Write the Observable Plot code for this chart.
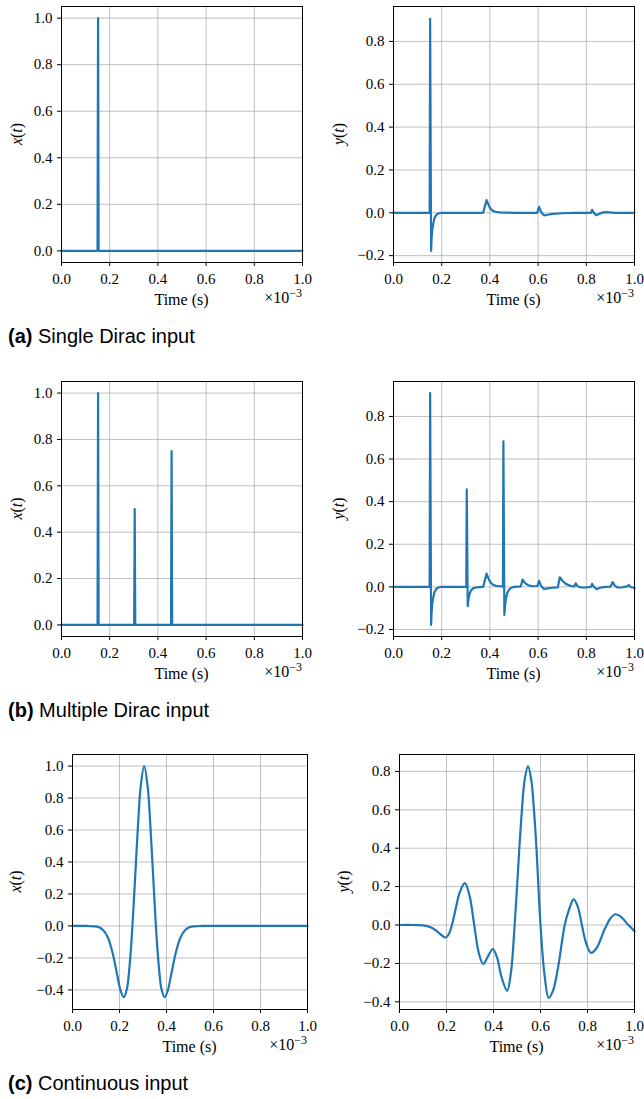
<!DOCTYPE html>
<html><head><meta charset="utf-8">
<script src="https://cdn.jsdelivr.net/npm/d3@7"></script>
<script src="https://cdn.jsdelivr.net/npm/@observablehq/plot@0.6"></script>
<style>
body{margin:0;background:#fff;}
#root{position:relative;width:644px;height:1099px;overflow:hidden;background:#fff;}
.cap{position:absolute;left:8px;font-family:"Liberation Sans",Arial,sans-serif;font-size:20px;color:#000;line-height:20px;white-space:nowrap;}
.cap b{font-weight:bold;}
svg text, svg tspan, svg g{font-family:"Liberation Serif",serif !important;font-variant:normal !important;font-variant-numeric:normal !important;}
</style></head><body><div id="root"></div>
<script>
// ---- tick values ----
const xTicks = [0, 0.2, 0.4, 0.6, 0.8, 1.0];
const yTicksIn = [0, 0.2, 0.4, 0.6, 0.8, 1.0];
const yTicksOut = [-0.2, 0, 0.2, 0.4, 0.6, 0.8];
const yTicksContIn = [-0.4, -0.2, 0, 0.2, 0.4, 0.6, 0.8, 1.0];
const yTicksContOut = [-0.4, -0.2, 0, 0.2, 0.4, 0.6, 0.8];

// ---- (a) single Dirac: time in units of 1e-3 s ----
const aInT = [0, 0.1495, 0.1518, 0.1541, 1.0];
const aInV = [0, 0, 1.0, 0, 0];
const aOutT = [0, 0.150, 0.152, 0.156, 0.158, 0.161, 0.165, 0.170, 0.176, 0.183, 0.190, 0.200,
  0.372, 0.386, 0.395, 0.403, 0.413, 0.423, 0.440, 0.460, 0.500,
  0.596, 0.604, 0.612, 0.624, 0.640, 0.660, 0.700, 0.750,
  0.819, 0.824, 0.830, 0.841, 0.855, 0.870, 0.885, 0.920, 1.0];
const aOutV = [0, 0, 0.905, -0.178, -0.12, -0.08, -0.05, -0.025, -0.012, -0.005, -0.002, 0,
  0, 0.059, 0.035, 0.018, 0.009, 0.005, 0.002, 0.001, 0,
  0, 0.028, 0.004, -0.012, -0.009, -0.005, -0.002, 0,
  0, 0.014, 0.002, -0.011, -0.004, 0.002, 0.003, 0, 0];

// ---- (b) multiple Dirac ----
const bInT = [0, 0.1495, 0.1518, 0.1541, 0.3015, 0.3038, 0.3061, 0.4545, 0.4568, 0.4591, 1.0];
const bInV = [0, 0, 1.0, 0, 0, 0.5, 0, 0, 0.75, 0, 0];
const bOutT = [0, 0.150, 0.152, 0.156, 0.158, 0.161, 0.165, 0.170, 0.176, 0.183, 0.190, 0.200,
  0.302, 0.304, 0.308, 0.311, 0.315, 0.321, 0.330, 0.345, 0.372,
  0.386, 0.395, 0.403, 0.413, 0.425, 0.440, 0.454,
  0.456, 0.460, 0.463, 0.467, 0.473, 0.481, 0.490, 0.500,
  0.528, 0.536, 0.546, 0.560, 0.580, 0.597, 0.604, 0.612, 0.624, 0.640, 0.660, 0.682,
  0.690, 0.700, 0.715, 0.735, 0.750, 0.756, 0.765, 0.780, 0.800, 0.819, 0.824, 0.830, 0.843,
  0.857, 0.870, 0.900, 0.909, 0.918, 0.930, 0.950, 0.970, 0.976, 0.986, 1.0];
const bOutV = [0, 0, 0.91, -0.179, -0.12, -0.08, -0.05, -0.025, -0.012, -0.005, -0.002, 0,
  0, 0.458, -0.09, -0.06, -0.036, -0.018, -0.007, -0.002, 0,
  0.062, 0.037, 0.02, 0.01, 0.005, 0.003, 0.002,
  0.683, -0.132, -0.088, -0.052, -0.026, -0.011, -0.004, 0,
  0.002, 0.034, 0.018, 0.007, 0.003, 0.004, 0.028, 0.005, -0.010, -0.007, -0.004, -0.002,
  0.045, 0.030, 0.014, 0.004, 0.002, 0.016, 0.002, -0.003, -0.002, 0, 0.014, 0.002, -0.011,
  -0.004, -0.001, 0.001, 0.022, 0.006, -0.003, -0.002, 0.002, 0.008, -0.002, -0.005];

// ---- (c) continuous input ----
const cInT = [0, 0.06, 0.09, 0.11, 0.13, 0.15, 0.17, 0.19, 0.205, 0.218, 0.232, 0.24, 0.25, 0.26, 0.27, 0.28, 0.29,
  0.305, 0.32, 0.33, 0.34, 0.35, 0.36, 0.37, 0.378, 0.392, 0.405, 0.42, 0.44, 0.46, 0.48, 0.50, 0.52, 0.55, 0.70, 1.0];
const cInV = [0, 0, -0.002, -0.007, -0.025, -0.07, -0.164, -0.305, -0.406, -0.446, -0.39, -0.296, -0.115, 0.127, 0.399, 0.662, 0.87,
  1.0, 0.87, 0.662, 0.399, 0.127, -0.115, -0.296, -0.39, -0.446, -0.406, -0.305, -0.164, -0.07, -0.025, -0.007, -0.002, 0, 0, 0];
const cOutT = [0, 0.06, 0.10, 0.13, 0.155, 0.178, 0.197, 0.211, 0.223, 0.240, 0.256, 0.278, 0.298, 0.318, 0.337,
  0.356, 0.376, 0.397, 0.415, 0.435, 0.458, 0.474, 0.490, 0.510, 0.521, 0.533, 0.547, 0.561, 0.572, 0.583,
  0.600, 0.617, 0.635, 0.653, 0.675, 0.703, 0.720, 0.741, 0.759, 0.776, 0.795, 0.815, 0.838, 0.870, 0.882,
  0.895, 0.918, 0.945, 0.970, 0.985, 1.0];
const cOutV = [0, 0, -0.002, -0.010, -0.028, -0.052, -0.065, -0.045, 0, 0.090, 0.169, 0.218, 0.153, 0, -0.144,
  -0.203, -0.165, -0.125, -0.169, -0.275, -0.343, -0.25, 0, 0.4, 0.6, 0.76, 0.827, 0.753, 0.602, 0.394,
  0, -0.258, -0.379, -0.343, -0.219, 0, 0.075, 0.134, 0.095, 0, -0.098, -0.145, -0.121, -0.03, 0,
  0.03, 0.056, 0.04, 0.005, -0.013, -0.032];

const captions = [
  {tag: "(a)", text: " Single Dirac input", top: 326},
  {tag: "(b)", text: " Multiple Dirac input", top: 700},
  {tag: "(c)", text: " Continuous input", top: 1073}
];

const BLUE = "#1f77b4";
const SERIF = "Liberation Serif";
const fmt = d3.format(".1f");
const root = document.getElementById("root");

function panel(o) {
  const [fx0, fx1, fy0, fy1] = o.frame;
  const data = o.t.map((d, i) => ({t: d, v: o.v[i]}));
  const svg = Plot.plot({
    width: o.width, height: o.height,
    marginLeft: fx0 - o.left, marginRight: o.left + o.width - fx1,
    marginTop: fy0 - o.top, marginBottom: o.top + o.height - fy1,
    style: {fontFamily: SERIF, fontSize: "15px", background: "transparent", color: "black"},
    x: {domain: [0, 1]},
    y: {domain: o.yDomain},
    marks: [
      Plot.gridX(xTicks, {stroke: "#b0b0b0", strokeOpacity: 1, strokeWidth: 0.8}),
      Plot.gridY(o.yTicks, {stroke: "#b0b0b0", strokeOpacity: 1, strokeWidth: 0.8}),
      Plot.line(data, {x: "t", y: "v", stroke: BLUE, strokeWidth: 2.2, strokeLinejoin: "round",
        curve: o.curve || "linear"}),
      Plot.axisX({ticks: xTicks, tickSize: 4, tickPadding: 7, tickFormat: fmt, label: null, fill: "black",
        fontFamily: SERIF, fontSize: 15, fontVariant: "normal"}),
      Plot.axisY({ticks: o.yTicks, tickSize: 4, tickPadding: 5, tickFormat: fmt, label: null, fill: "black",
        fontFamily: SERIF, fontSize: 15, fontVariant: "normal"}),
      Plot.frame({stroke: "black", strokeWidth: 1})
    ]
  });
  const s = d3.select(svg);
  const cx = (fx0 + fx1) / 2 - o.left;
  const bottom = fy1 - o.top;
  const right = fx1 - o.left;
  // x label
  s.append("text").attr("x", cx).attr("y", bottom + 43)
    .attr("text-anchor", "middle").attr("font-family", SERIF)
    .attr("font-size", 16).attr("fill", "black").text("Time (s)");
  // offset text
  const off = s.append("text").attr("x", right).attr("y", bottom + 40.5)
    .attr("text-anchor", "end").attr("font-family", SERIF)
    .attr("font-size", 16).attr("fill", "black");
  off.append("tspan").text("×10");
  off.append("tspan").attr("dy", -6).attr("font-size", 12).text("−3");
  // y label
  const ly = (fy0 + fy1) / 2 - o.top;
  const lx = fx0 - o.left - o.yLabelOff;
  const yl = s.append("text").attr("transform", `translate(${lx},${ly}) rotate(-90)`)
    .attr("text-anchor", "middle").attr("dy", "0.35em")
    .attr("font-family", SERIF).attr("font-size", 16).attr("fill", "black");
  yl.append("tspan").attr("font-style", "italic").text(o.yName);
  yl.append("tspan").text("(");
  yl.append("tspan").attr("font-style", "italic").text("t");
  yl.append("tspan").text(")");
  svg.style.position = "absolute";
  svg.style.left = o.left + "px";
  svg.style.top = o.top + "px";
  svg.style.overflow = "visible";
  root.appendChild(svg);
}

panel({left: 0, top: 0, width: 322, height: 325, frame: [61, 302, 6, 262], t: aInT, v: aInV,
  yDomain: [-0.05, 1.05], yTicks: yTicksIn, yName: "x", yLabelOff: 44.5});
panel({left: 322, top: 0, width: 322, height: 325, frame: [393, 634, 6, 262], t: aOutT, v: aOutV,
  yDomain: [-0.232, 0.963], yTicks: yTicksOut, yName: "y", yLabelOff: 54.5});
panel({left: 0, top: 370, width: 322, height: 325, frame: [61, 302, 381, 636], t: bInT, v: bInV,
  yDomain: [-0.05, 1.05], yTicks: yTicksIn, yName: "x", yLabelOff: 44.5});
panel({left: 322, top: 370, width: 322, height: 325, frame: [393, 634, 381, 636], t: bOutT, v: bOutV,
  yDomain: [-0.233, 0.964], yTicks: yTicksOut, yName: "y", yLabelOff: 54.5});
panel({left: 0, top: 740, width: 322, height: 325, frame: [72, 307, 754, 1009], t: cInT, v: cInV,
  yDomain: [-0.5225, 1.0725], yTicks: yTicksContIn, yName: "x", yLabelOff: 57, curve: "catmull-rom"});
panel({left: 322, top: 740, width: 322, height: 325, frame: [399, 634, 754, 1009], t: cOutT, v: cOutV,
  yDomain: [-0.44, 0.888], yTicks: yTicksContOut, yName: "y", yLabelOff: 55.5, curve: "catmull-rom"});

for (const c of captions) {
  const d = document.createElement("div");
  d.className = "cap";
  d.style.top = c.top + "px";
  const b = document.createElement("b");
  b.textContent = c.tag;
  d.appendChild(b);
  d.appendChild(document.createTextNode(c.text));
  root.appendChild(d);
}
</script>
</body></html>
